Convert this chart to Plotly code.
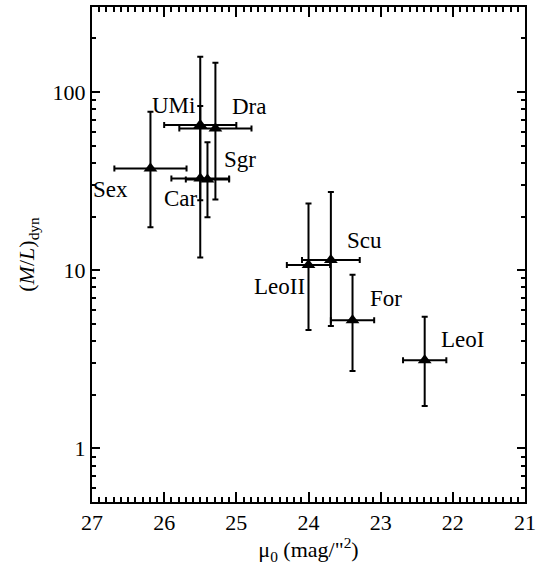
import plotly.graph_objects as go
import math

# Data
galaxies = ["Sex", "UMi", "Car", "Sgr", "Dra", "Scu", "LeoII", "For", "LeoI"]
mu0 = [26.19, 25.50, 25.50, 25.40, 25.29, 23.69, 24.00, 23.39, 22.39]
mu0_err = [0.50, 0.50, 0.40, 0.30, 0.50, 0.40, 0.30, 0.30, 0.30]
ml = [37.2, 65.3, 32.7, 32.3, 62.5, 11.4, 10.7, 5.24, 3.12]
ml_hi = [77.4, 157.8, 83.4, 52.2, 146.0, 27.5, 23.7, 9.42, 5.47]
ml_lo = [17.4, 24.7, 11.8, 19.8, 24.9, 4.86, 4.62, 2.72, 1.73]

x_ticks = [27, 26, 25, 24, 23, 22, 21]
y_ticks = [1, 10, 100]

# label placement (anchor, xshift px, yshift px)
label_pos = {
    "Sex": ("right", -20, -21),
    "UMi": ("right", -3, 19),
    "Car": ("right", 0, -20),
    "Sgr": ("left", 15, 20),
    "Dra": ("left", 15, 22),
    "Scu": ("left", 14, 20),
    "LeoII": ("right", -2, -22),
    "For": ("left", 15, 22),
    "LeoI": ("left", 14, 21),
}

FONT = "Liberation Serif, Times New Roman, Times, DejaVu Serif, serif"

err_up = [h - v for h, v in zip(ml_hi, ml)]
err_dn = [v - l for v, l in zip(ml, ml_lo)]

fig = go.Figure()
fig.add_trace(go.Scatter(
    x=mu0, y=ml, mode="markers",
    marker=dict(symbol="triangle-up", size=12, color="black"),
    error_x=dict(type="data", array=mu0_err, color="black", thickness=2, width=3),
    error_y=dict(type="data", symmetric=False, array=err_up, arrayminus=err_dn,
                 color="black", thickness=2, width=3),
    showlegend=False,
))

for g, x, y in zip(galaxies, mu0, ml):
    anc, xs, ys = label_pos[g]
    fig.add_annotation(x=x, y=math.log10(y), text=g, showarrow=False,
                       xanchor=anc, yanchor="middle", xshift=xs, yshift=ys,
                       font=dict(family=FONT, size=23, color="black"))

fig.update_layout(
    width=537, height=565,
    margin=dict(l=91.5, r=12, t=7, b=62.5, autoexpand=False),
    plot_bgcolor="white", paper_bgcolor="white",
    font=dict(family=FONT, size=22, color="black"),
)
fig.update_xaxes(
    range=[27, 21], tickvals=x_ticks, ticktext=[str(v) for v in x_ticks],
    automargin=False,
    showline=True, linewidth=2, linecolor="black", mirror="allticks",
    ticks="inside", ticklen=10, tickwidth=2, tickcolor="black",
    minor=dict(ticks="inside", ticklen=5, tickwidth=1.5, dtick=0.1, tickcolor="black"),
    showgrid=False, zeroline=False,
    tickfont=dict(family=FONT, size=22),
    title=dict(text="μ<sub>0</sub> (mag/\"<sup>2</sup>)", font=dict(family=FONT, size=22), standoff=8),
)
fig.update_yaxes(
    type="log", range=[math.log10(0.5), math.log10(300)],
    tickvals=y_ticks, ticktext=[str(v) for v in y_ticks],
    automargin=False,
    showline=True, linewidth=2, linecolor="black", mirror="allticks",
    ticks="inside", ticklen=8, tickwidth=2, tickcolor="black",
    minor=dict(ticks="inside", ticklen=4, tickwidth=1.5, dtick="D1", tickcolor="black"),
    showgrid=False, zeroline=False,
    tickfont=dict(family=FONT, size=22),
    title=dict(text="(<i>M</i>/<i>L</i>)<sub>dyn</sub>", font=dict(family=FONT, size=22), standoff=12),
)

fig.write_html("out.html")
